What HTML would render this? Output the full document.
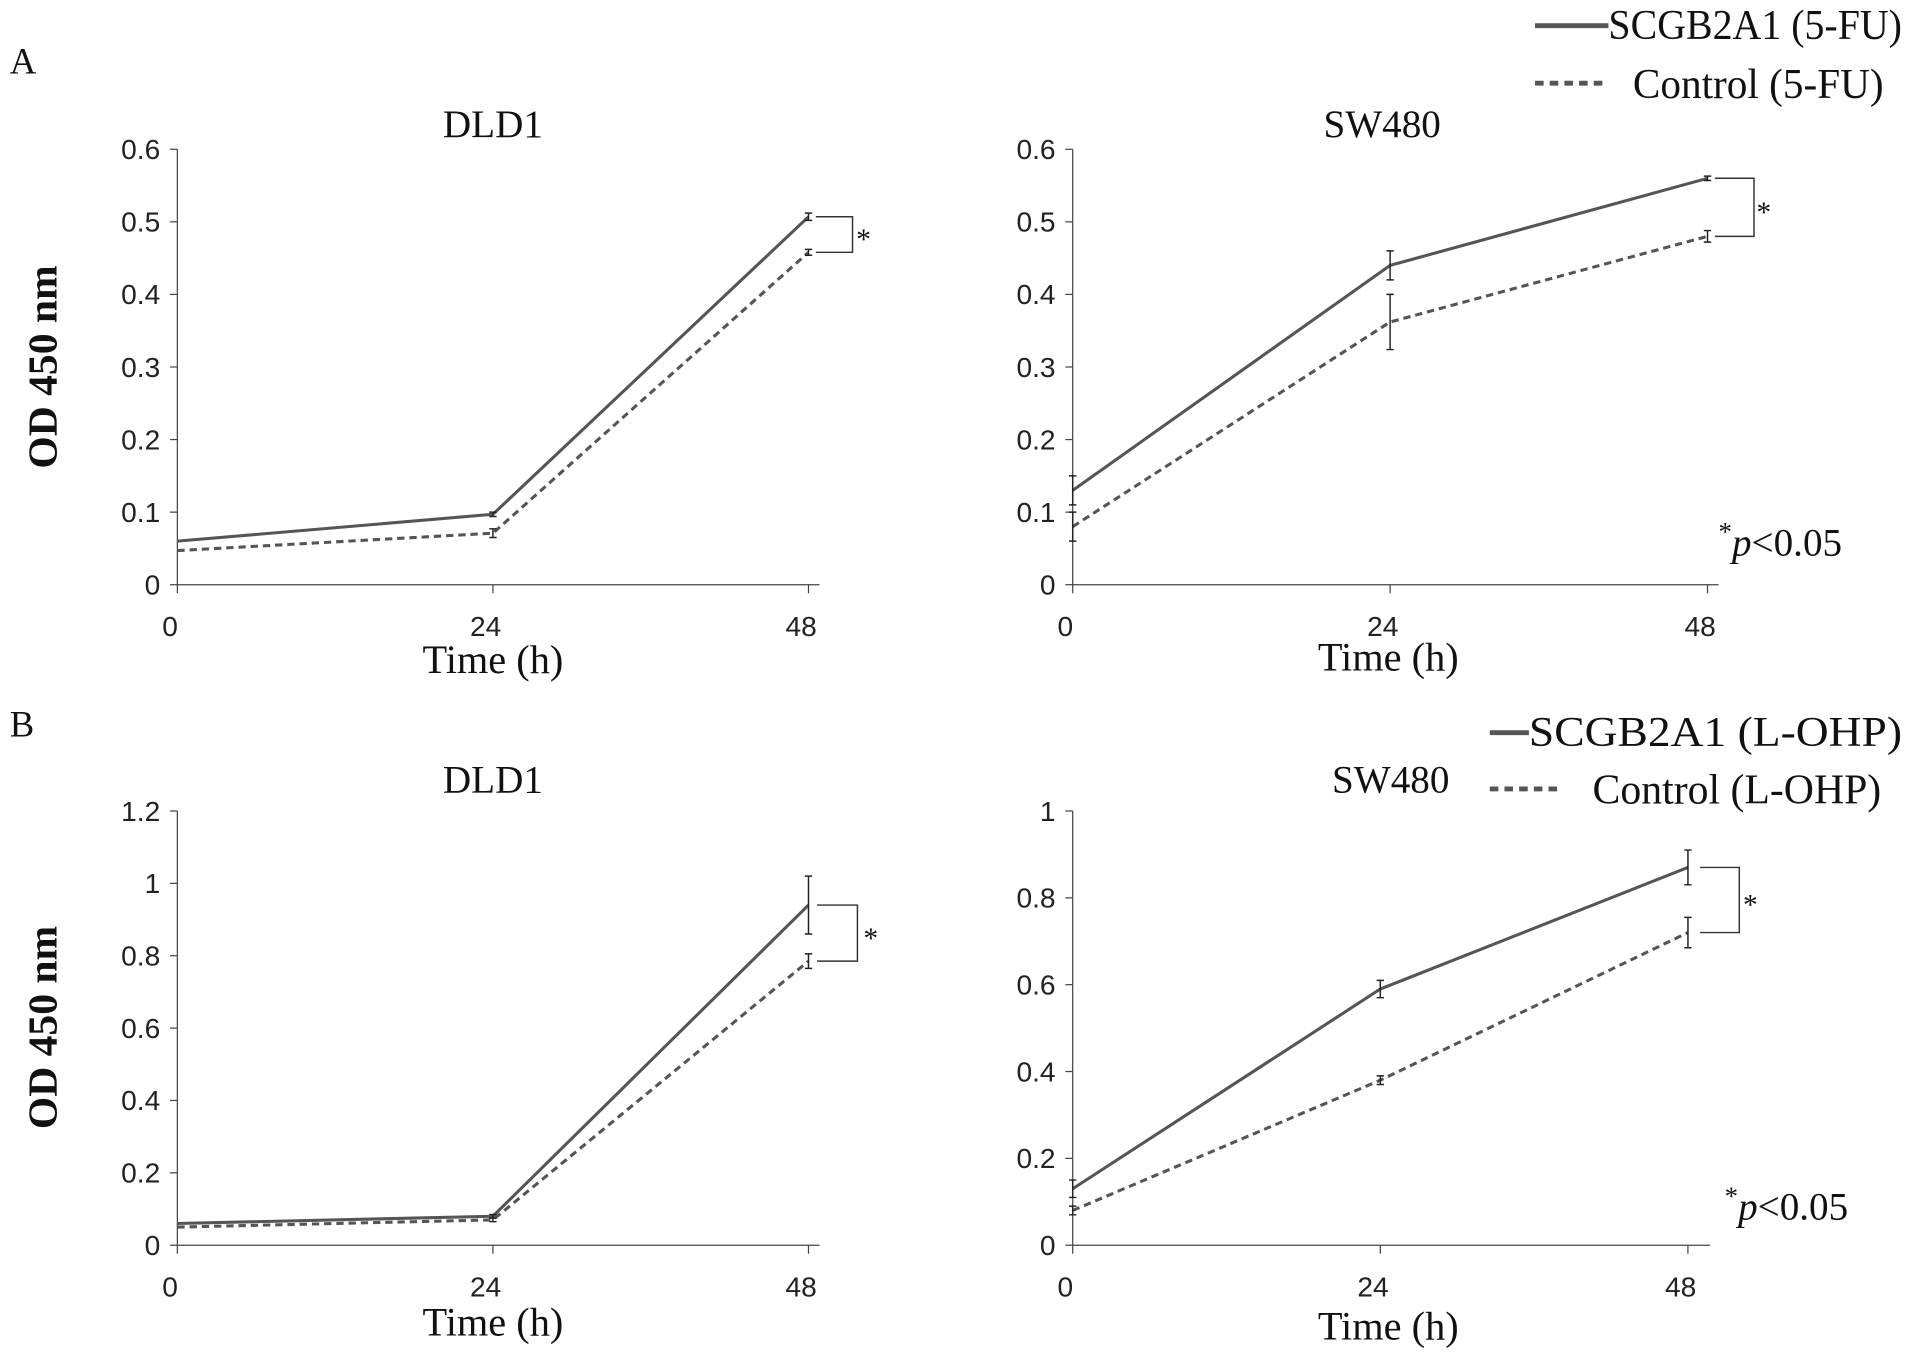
<!DOCTYPE html>
<html><head><meta charset="utf-8"><style>
html,body{margin:0;padding:0;background:#fff}
svg{display:block}
text{font-family:"Liberation Serif",serif;fill:#111}
.tk{font-family:"Liberation Sans",sans-serif;font-size:23px;fill:#222}
</style></head><body>
<svg id="chart" width="1913" height="1359" viewBox="0 0 1564 1111" xmlns="http://www.w3.org/2000/svg">
<g>
<text x="8" y="60" font-size="30">A</text>
<text x="8" y="602" font-size="30">B</text>
<g>
<line x1="1255" y1="21" x2="1315" y2="21" stroke="#555" stroke-width="4"/>
<text x="1315" y="32" font-size="35" textLength="240" lengthAdjust="spacingAndGlyphs">SCGB2A1 (5-FU)</text>
<line x1="1255" y1="68" x2="1310" y2="68" stroke="#555" stroke-width="4" stroke-dasharray="7,5"/>
<text x="1335" y="80" font-size="35" textLength="205" lengthAdjust="spacingAndGlyphs">Control (5-FU)</text>
</g>
<g>
<line x1="1218" y1="599" x2="1250" y2="599" stroke="#555" stroke-width="4"/>
<text x="1250" y="610" font-size="35" textLength="305" lengthAdjust="spacingAndGlyphs">SCGB2A1 (L-OHP)</text>
<line x1="1218" y1="645" x2="1276" y2="645" stroke="#555" stroke-width="4" stroke-dasharray="7,5"/>
<text x="1302" y="657" font-size="35" textLength="236" lengthAdjust="spacingAndGlyphs">Control (L-OHP)</text>
</g>
<text x="1405" y="454" font-size="32"><tspan font-size="22" dy="-12">*</tspan><tspan font-style="italic" dy="12">p</tspan>&lt;0.05</text>
<text x="1410" y="997" font-size="32"><tspan font-size="22" dy="-12">*</tspan><tspan font-style="italic" dy="12">p</tspan>&lt;0.05</text>
</g>
</svg>
<script>
const times=[0,24,48];
const aDldS=[0.06,0.097,0.507], aDldSE=[0,0.003,0.005];
const aDldC=[0.047,0.071,0.458], aDldCE=[0,0.006,0.004];
const aSwS=[0.13,0.44,0.56], aSwSE=[0.02,0.02,0.003];
const aSwC=[0.08,0.362,0.48], aSwCE=[0.02,0.038,0.008];
const bDldS=[0.06,0.08,0.94], bDldSE=[0,0.005,0.08];
const bDldC=[0.05,0.07,0.785], bDldCE=[0,0.005,0.02];
const bSwS=[0.13,0.59,0.87], bSwSE=[0.02,0.02,0.04];
const bSwC=[0.08,0.38,0.72], bSwCE=[0.01,0.01,0.035];
const ticksA=[0,0.1,0.2,0.3,0.4,0.5,0.6];
const ticksBL=[0,0.2,0.4,0.6,0.8,1,1.2];
const ticksBR=[0,0.2,0.4,0.6,0.8,1];
const xTicks=[0,24,48];

const svg=document.getElementById('chart');
const NS='http://www.w3.org/2000/svg';
function mk(tag,attrs,parent){const e=document.createElementNS(NS,tag);for(const k in attrs)e.setAttribute(k,attrs[k]);parent.appendChild(e);return e;}

const panels=[
 {id:'a-dld1',title:'DLD1',x0:145,x48:661,xEnd:670,y0:478,yTop:122,max:0.6,ticks:ticksA,S:aDldS,SE:aDldSE,C:aDldC,CE:aDldCE,tx:403,ty:112,xl:403,xly:550,yl:true,ylc:300,br:[667,697,706]},
 {id:'a-sw480',title:'SW480',x0:877,x48:1396,xEnd:1405,y0:478,yTop:122,max:0.6,ticks:ticksA,S:aSwS,SE:aSwSE,C:aSwC,CE:aSwCE,tx:1130,ty:112,xl:1135,xly:548,yl:false,br:[1402,1434,1442]},
 {id:'b-dld1',title:'DLD1',x0:145,x48:661,xEnd:670,y0:1018,yTop:663,max:1.2,ticks:ticksBL,S:bDldS,SE:bDldSE,C:bDldC,CE:bDldCE,tx:403,ty:648,xl:403,xly:1092,yl:true,ylc:840,br:[668,701,712]},
 {id:'b-sw480',title:'SW480',x0:877,x48:1380,xEnd:1398,y0:1018,yTop:663,max:1,ticks:ticksBR,S:bSwS,SE:bSwSE,C:bSwC,CE:bSwCE,tx:1137,ty:648,xl:1135,xly:1095,yl:false,br:[1390,1422,1431]}
];
panels.forEach(p=>{
 const g=mk('g',{},svg);
 
 
 const X=t=>p.x0+(p.x48-p.x0)*t/48;
 const Y=v=>p.y0-(p.y0-p.yTop)*v/p.max;
 const t=mk('text',{x:p.tx,y:p.ty,'font-size':32,'text-anchor':'middle'},g);t.textContent=p.title;
 
 
 mk('line',{x1:p.x0,y1:p.yTop,x2:p.x0,y2:p.y0,stroke:'#444','stroke-width':1},g);
 mk('line',{x1:p.x0,y1:p.y0,x2:p.xEnd,y2:p.y0,stroke:'#444','stroke-width':1},g);
 p.ticks.forEach(v=>{
  mk('line',{x1:p.x0-6,y1:Y(v),x2:p.x0,y2:Y(v),stroke:'#444'},g);
  const l=mk('text',{x:p.x0-14,y:Y(v)+8,'text-anchor':'end',class:'tk'},g);l.textContent=String(v);
  
  
 });
 xTicks.forEach(v=>{
  mk('line',{x1:X(v),y1:p.y0,x2:X(v),y2:p.y0+7,stroke:'#444'},g);
  const l=mk('text',{x:X(v)-6,y:p.y0+42,'text-anchor':'middle',class:'tk'},g);l.textContent=String(v);
  
  
 });
 const xl=mk('text',{x:p.xl,y:p.xly,'font-size':33,'text-anchor':'middle'},g);xl.textContent='Time (h)';
 
 
 if(p.yl){const yl=mk('text',{x:0,y:0,'font-size':34,'font-weight':'bold','text-anchor':'middle',transform:`translate(46,${p.ylc}) rotate(-90)`},g);yl.textContent='OD 450 nm';
  
  }
 [[p.S,p.SE,'',"scgb2a1"],[p.C,p.CE,'6,4',"control"]].forEach(([vals,errs,dash,nm])=>{
  const pts=times.map((tt,i)=>X(tt)+','+Y(vals[i])).join(' ');
  const pl=mk('polyline',{points:pts,fill:'none',stroke:'#555','stroke-width':2.5,'stroke-dasharray':dash},g);
  
  
  times.forEach((tt,i)=>{if(!errs[i])return;const x=X(tt),a=Y(vals[i]+errs[i]),b=Y(vals[i]-errs[i]);
   mk('path',{d:`M${x},${a}V${b}M${x-3},${a}H${x+3}M${x-3},${b}H${x+3}`,stroke:'#222','stroke-width':1.2,fill:'none'},g);});
 });
 const ya=Y(p.S[2]),yb=Y(p.C[2]);
 mk('path',{d:`M${p.br[0]},${ya}H${p.br[1]}V${yb}H${p.br[0]}`,fill:'none',stroke:'#333','stroke-width':1.2},g);
 const st=mk('text',{x:p.br[2],y:(ya+yb)/2+12,'font-size':24,'text-anchor':'middle'},g);st.textContent='*';
 
 
});
</script>
</body></html>
